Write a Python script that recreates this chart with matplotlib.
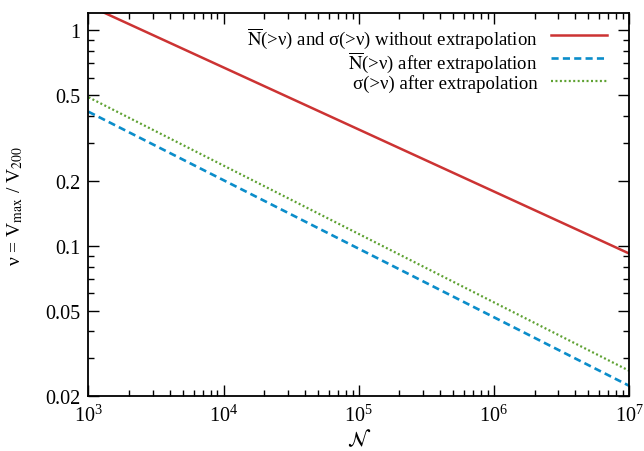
import matplotlib

matplotlib.use("Agg")
import matplotlib.pyplot as plt
from matplotlib.lines import Line2D
from matplotlib.ticker import FixedLocator, FixedFormatter, LogLocator, NullFormatter

plt.rcParams["font.family"] = ["Liberation Serif", "DejaVu Serif"]
plt.rcParams["mathtext.fontset"] = "stix"
plt.rcParams["font.size"] = 13

# Straight lines in log-log space: values at both ends of the N range.
n_range = [1e3, 1e7]
nu_no_extrap = [1.30, 0.092]
nu_nbar_extrap = [0.418, 0.0224]
nu_sigma_extrap = [0.488, 0.0263]

labels = [
    r"$\overline{\rm N}$(>ν) and σ(>ν) without extrapolation",
    r"$\overline{\rm N}$(>ν) after extrapolation",
    "σ(>ν) after extrapolation",
]
y_ticks = [0.02, 0.05, 0.1, 0.2, 0.5, 1]
y_ticklabels = ["0.02", "0.05", "0.1", "0.2", "0.5", "1"]

styles = [
    dict(color="#cc3333", lw=1.8),
    dict(color="#0b8dca", lw=1.9, dashes=(2.7, 1.6)),
    dict(color="#5fa233", lw=1.6, dashes=(0.9, 1.1)),
]

fig = plt.figure(figsize=(6.44, 4.52), dpi=100)
ax = fig.add_axes([0.1374, 0.121, 0.8393, 0.848])

for vals, st in zip([nu_no_extrap, nu_nbar_extrap, nu_sigma_extrap], styles):
    ax.plot(n_range, vals, **st)

ax.set_xscale("log")
ax.set_yscale("log")
ax.set_xlim(1e3, 1e7)
ax.set_ylim(0.02, 1.2)

ax.yaxis.set_major_locator(FixedLocator(y_ticks))
ax.yaxis.set_major_formatter(FixedFormatter(y_ticklabels))
ax.yaxis.set_minor_locator(LogLocator(base=10, subs=range(2, 10)))
ax.yaxis.set_minor_formatter(NullFormatter())
ax.xaxis.set_minor_locator(LogLocator(base=10, subs=range(2, 10)))

ax.tick_params(which="both", direction="in", top=True, right=True, width=1.0)
ax.tick_params(which="major", length=8, labelsize=14.5, pad=6)
ax.tick_params(which="minor", length=4.2)
for spine in ax.spines.values():
    spine.set_linewidth(1.3)

ax.set_xlabel(r"$\mathcal{N}$", fontsize=15, labelpad=2)
ax.set_ylabel(r"ν = V$_{\rm max}$ / V$_{200}$", fontsize=14, labelpad=14)

# key: right-aligned text with the line sample to its right, evenly spaced rows
row_y = [0.943, 0.882, 0.823]
for label, st, y in zip(labels, styles, row_y):
    ax.text(0.831, y, label, transform=ax.transAxes, ha="right",
            va="center_baseline", fontsize=13.5)
    ax.add_line(Line2D([0.855, 0.959], [y, y], transform=ax.transAxes, **st))

fig.savefig("out.png", dpi=100, facecolor="white")
plt.close(fig)
